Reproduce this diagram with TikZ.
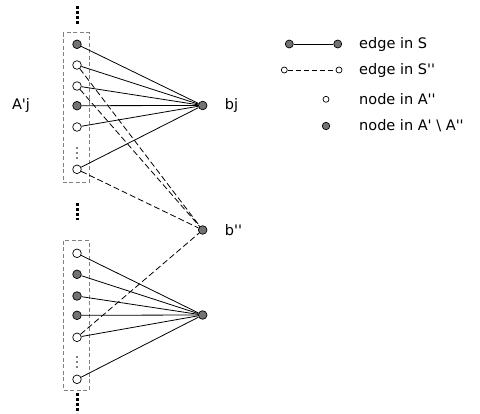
\documentclass[tikz,border=0pt]{standalone}
\usepackage{fontspec}
\setmainfont{DejaVu Sans}[Ligatures=TeXOff]
\begin{document}
\begin{tikzpicture}[x=1pt,y=-1pt,
  vtx/.style={circle,draw=black,line width=0.7pt,inner sep=0pt,minimum size=8.6pt},
  gv/.style={vtx,fill=black!55},
  wv/.style={vtx,fill=white},
  sedge/.style={line width=0.8pt},
  dedge/.style={line width=0.8pt,dash pattern=on 6pt off 3pt},
  grp/.style={draw=black!50,line width=0.8pt,dash pattern=on 4pt off 2.5pt},
  bigdots/.style={line width=3pt,dash pattern=on 3.2pt off 1.8pt},
  lbl/.style={font=\fontsize{14.5}{17}\selectfont,inner sep=0pt},
  leg/.style={lbl,anchor=west}]
\useasboundingbox (0,0) rectangle (480,413);
% group boxes
\draw[grp] (63.3,32.7) rectangle (89.3,182.7);
\draw[grp] (63.3,240.7) rectangle (89.3,390);
% big vertical dots
\draw[bigdots] (77,6) -- (77,25.5);
\draw[bigdots] (77,202.5) -- (77,220);
\draw[bigdots] (77,393) -- (77,413);
% small inner dots
\foreach \yy in {148,153,158,357,362,367} \fill (77,\yy) circle (0.8pt);
% right nodes
\node[gv] (bj) at (202.7,105.5) {};
\node[gv] (bpp) at (202.7,230) {};
\node[gv] (bl) at (202.7,315) {};
% upper group
\node[gv] (u1) at (77,44.3) {};
\node[wv] (u2) at (77,65) {};
\node[wv] (u3) at (77,86) {};
\node[gv] (u4) at (77,105.7) {};
\node[wv] (u5) at (77,127) {};
\node[wv] (u7) at (77,169.3) {};
% lower group
\node[wv] (l1) at (77,253.3) {};
\node[gv] (l2) at (77,274.3) {};
\node[gv] (l3) at (77,296) {};
\node[gv] (l4) at (77,315.3) {};
\node[wv] (l5) at (77,337.3) {};
\node[wv] (l7) at (77,379.3) {};
% edges
\foreach \n in {u1,u2,u3,u4,u5,u7} \draw[sedge] (\n) -- (bj);
\foreach \n in {l1,l2,l3,l4,l5,l7} \draw[sedge] (\n) -- (bl);
\foreach \n in {u2,u3,u7,l5} \draw[dedge] (\n) -- (bpp);
% labels
\node[lbl] (lA) at (21,105.5) {A'j};
\node[lbl] (lbj) at (231.5,105.5) {bj};
\node[lbl] (lbpp) at (233.5,230) {b''};
% legend
\node[vtx,fill=black!55,minimum size=8pt] (s1) at (289.3,44) {};
\node[vtx,fill=black!55,minimum size=8pt] (s2) at (337.7,44) {};
\draw[sedge] (s1) -- (s2);
\node[vtx,fill=white,minimum size=6pt] (d1) at (284.3,70) {};
\node[vtx,fill=white,minimum size=6pt] (d2) at (339,70) {};
\draw[line width=0.8pt,dash pattern=on 5pt off 3pt] (d1) -- (d2);
\node[vtx,fill=white,minimum size=6pt] (n1) at (326,99.3) {};
\node[vtx,fill=black!55,minimum size=7.5pt] (n2) at (326,126) {};
\node[leg] (t1) at (359,44) {edge in S};
\node[leg] (t2) at (359,70) {edge in S''};
\node[leg] (t3) at (359,99.3) {node in A''};
\node[leg] (t4) at (359,126) {node in A' \textbackslash{} A''};
\end{tikzpicture}
\end{document}
